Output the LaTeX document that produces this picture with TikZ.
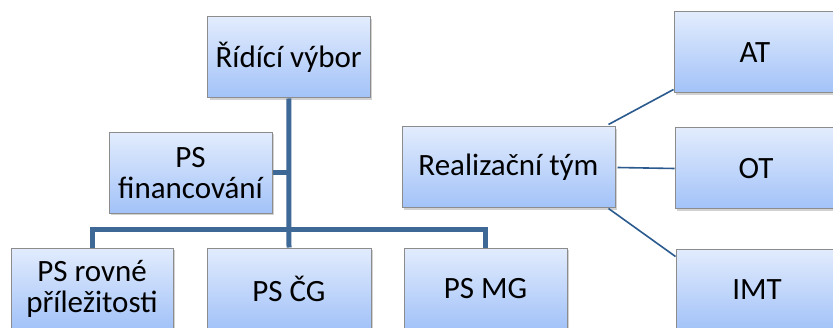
\documentclass[tikz,border=0pt]{standalone}
\usepackage{fontspec}
\setmainfont{Carlito}
\usetikzlibrary{shadows,calc}
\definecolor{boxtop}{HTML}{E2ECFD}
\definecolor{boxbot}{HTML}{A2C2F8}
\definecolor{boxline}{HTML}{8C8C8C}
\definecolor{thickline}{HTML}{3E6896}
\definecolor{thinline}{HTML}{2B5A8E}
\tikzset{
  orgbox/.style={draw=boxline, line width=1pt, top color=boxtop, bottom color=boxbot,
    minimum height=81pt, inner sep=2pt, align=center,
    font=\fontsize{31pt}{35pt}\selectfont,
    drop shadow={opacity=0.35, shadow xshift=2pt, shadow yshift=-2pt}},
  thickconn/.style={draw=thickline, line width=5pt},
  thinconn/.style={draw=thinline, line width=1.6pt}
}
\begin{document}
\begin{tikzpicture}[x=1pt,y=1pt]
\useasboundingbox (0,0) rectangle (833,327);
\clip (0,0) rectangle (833,327);
\fill[white] (0,0) rectangle (833,327);
% thick connectors (drawn first, beneath boxes)
\coordinate (bar) at (289,97);
\node[orgbox, minimum width=162.5pt] (ridici) at (288.75,269.5) {Řídící výbor};
\node[orgbox, minimum width=163pt] (fin) at (190.5,154) {PS\\[-4pt]financování};
\node[orgbox, minimum width=162pt] (rovne) at (92,38.5) {PS rovné\\[-4pt]příležitosti};
\node[orgbox, minimum width=164pt] (cg) at (289,38.5) {PS ČG};
\node[orgbox, minimum width=163pt] (mg) at (485.5,38.5) {PS MG};
\node[orgbox, minimum width=213pt] (real) at (508.5,159.5) {Realizační tým};
\node[orgbox, minimum width=162pt] (at) at (755,274.5) {AT};
\node[orgbox, minimum width=162pt] (ot) at (756,158.5) {OT};
\node[orgbox, minimum width=162pt] (imt) at (757,37.5) {IMT};
\draw[thickconn] (ridici.south) -- (cg.north);
\draw[thickconn] (rovne.north) |- (bar) -| (mg.north);
\draw[thickconn] (fin.east) -- (fin.east -| ridici.south);
\draw[thinconn] ($(real.north east)+(-7,2)$) -- ($(at.south west)+(0,4)$);
\draw[thinconn] ($(real.east)+(2,0)$) -- (ot.west);
\draw[thinconn] ($(real.south east)+(-7,0)$) -- ($(imt.north west)+(0,-8)$);
\end{tikzpicture}
\end{document}
